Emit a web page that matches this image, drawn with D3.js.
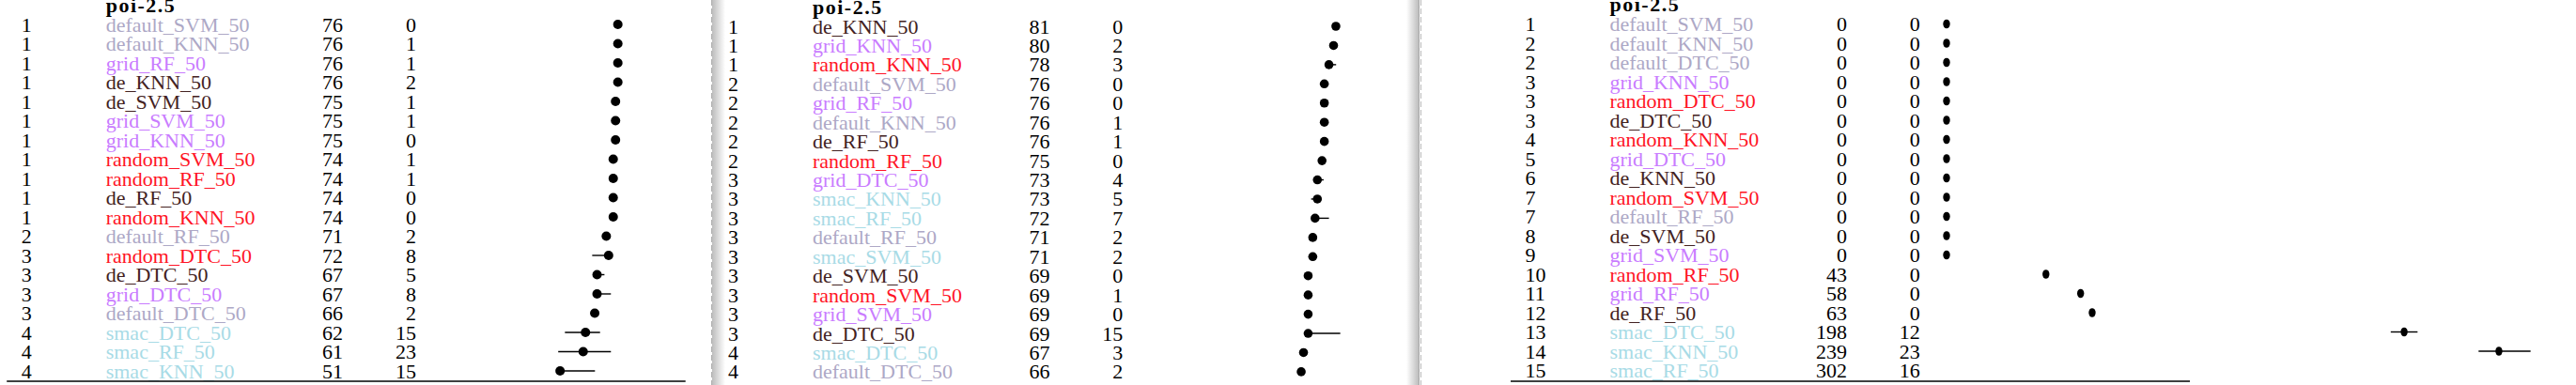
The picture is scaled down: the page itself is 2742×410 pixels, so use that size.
<!DOCTYPE html>
<html>
<head>
<meta charset="utf-8">
<script src="https://cdn.jsdelivr.net/npm/d3@7"></script>
<style>
  html, body { margin: 0; padding: 0; background: #fff; overflow: hidden; }
  svg { display: block; }
</style>
</head>
<body>
<svg id="chart" width="2742" height="410"></svg>
<script>
// ---------------- data ----------------
const title = "poi-2.5";

// panel 1
const ranks1  = [1,1,1,1,1,1,1,1,1,1,1,2,3,3,3,3,4,4,4];
const names1  = ["default_SVM_50","default_KNN_50","grid_RF_50","de_KNN_50","de_SVM_50","grid_SVM_50","grid_KNN_50","random_SVM_50","random_RF_50","de_RF_50","random_KNN_50","default_RF_50","random_DTC_50","de_DTC_50","grid_DTC_50","default_DTC_50","smac_DTC_50","smac_RF_50","smac_KNN_50"];
const values1 = [76,76,76,76,75,75,75,74,74,74,74,71,72,67,67,66,62,61,51];
const stds1   = [0,1,1,2,1,1,0,1,1,0,0,2,8,5,8,2,15,23,15];
const barLo1  = [null,null,null,null,null,null,null,null,null,null,null,null,64.9,67,67,null,53.1,50.2,51];
const barHi1  = [null,null,null,null,null,null,null,null,null,null,null,null,72,70.2,73.0,null,68.3,73.0,66.1];

// panel 2
const ranks2  = [1,1,1,2,2,2,2,2,3,3,3,3,3,3,3,3,3,4,4,4];
const names2  = ["de_KNN_50","grid_KNN_50","random_KNN_50","default_SVM_50","grid_RF_50","default_KNN_50","de_RF_50","random_RF_50","grid_DTC_50","smac_KNN_50","smac_RF_50","default_RF_50","smac_SVM_50","de_SVM_50","random_SVM_50","grid_SVM_50","de_DTC_50","smac_DTC_50","default_DTC_50","random_DTC_50"];
const values2 = [81,80,78,76,76,76,76,75,73,73,72,71,71,69,69,69,69,67,66,65];
const stds2   = [0,2,3,0,0,1,1,0,4,5,7,2,2,0,1,0,15,3,2,4];
const barLo2  = [null,null,78,null,null,null,null,null,73,70.3,72,null,69.2,null,null,null,69,null,null,null];
const barHi2  = [null,null,81.1,null,null,null,null,null,75.7,73,78.0,null,71,null,null,null,82.9,null,null,null];

// panel 3
const ranks3  = [1,2,2,3,3,3,4,5,6,7,7,8,9,10,11,12,13,14,15];
const names3  = ["default_SVM_50","default_KNN_50","default_DTC_50","grid_KNN_50","random_DTC_50","de_DTC_50","random_KNN_50","grid_DTC_50","de_KNN_50","random_SVM_50","default_RF_50","de_SVM_50","grid_SVM_50","random_RF_50","grid_RF_50","de_RF_50","smac_DTC_50","smac_KNN_50","smac_RF_50"];
const values3 = [0,0,0,0,0,0,0,0,0,0,0,0,0,43,58,63,198,239,302];
const stds3   = [0,0,0,0,0,0,0,0,0,0,0,0,0,0,0,0,12,23,16];
const barLo3  = [null,null,null,null,null,null,null,null,null,null,null,null,null,null,null,null,192.2,230.2,294];
const barHi3  = [null,null,null,null,null,null,null,null,null,null,null,null,null,null,null,null,203.8,252.7,310];

const methodColors = {
  default: "#ada8c6",
  grid:    "#c97cff",
  de:      "#432222",
  random:  "#ff1426",
  smac:    "#a8dbe6"
};

// ---------------- layout ----------------
const panels = [
  { ranks: ranks1, names: names1, values: values1, stds: stds1, lo: barLo1, hi: barHi1,
    rankX: 22.7, titleY: 13, rowY0: 26, rowStep: 20.5, x0: 470.7, rx: 5, ry: 5, rule: 406 },
  { ranks: ranks2, names: names2, values: values2, stds: stds2, lo: barLo2, hi: barHi2,
    rankX: 775, titleY: 15, rowY0: 28, rowStep: 20.44, x0: 1222.7, rx: 4.8, ry: 4.8, rule: null },
  { ranks: ranks3, names: names3, values: values3, stds: stds3, lo: barLo3, hi: barHi3,
    rankX: 1623.5, titleY: 11.5, rowY0: 25.5, rowStep: 20.5, x0: 2072, rx: 3.7, ry: 4.8, rule: 406 }
];

const svg = d3.select("#chart");
svg.append("rect").attr("width", 2742).attr("height", 410).attr("fill", "#fff");

const defs = svg.append("defs");
const g1 = defs.append("linearGradient").attr("id", "shR").attr("x1", "0").attr("x2", "1");
g1.append("stop").attr("offset", "0").attr("stop-color", "#bdbdbd");
g1.append("stop").attr("offset", "1").attr("stop-color", "#ffffff");
const g2 = defs.append("linearGradient").attr("id", "shL").attr("x1", "0").attr("x2", "1");
g2.append("stop").attr("offset", "0").attr("stop-color", "#ffffff");
g2.append("stop").attr("offset", "1").attr("stop-color", "#bdbdbd");

const FONT = "'Liberation Serif', 'Times New Roman', serif";

panels.forEach(p => {
  const nameX = p.rankX + 90;
  const valX = nameX + 252.4;
  const stdX = valX + 77.8;
  const x = d3.scaleLinear().domain([0, 100]).range([p.x0, p.x0 + 246]);
  const y = d3.scaleLinear().domain([0, 1]).range([p.rowY0, p.rowY0 + p.rowStep]);
  const g = svg.append("g");

  g.append("text")
    .attr("x", nameX).attr("y", p.titleY)
    .attr("font-family", FONT).attr("font-size", 22).attr("font-weight", "bold")
    .attr("letter-spacing", 1.5)
    .attr("fill", "#000").text(title);

  const rows = p.names.map((n, i) => ({
    rank: p.ranks[i], name: n, value: p.values[i], std: p.stds[i],
    lo: p.lo[i], hi: p.hi[i], i
  }));

  const r = g.selectAll("g.row").data(rows).join("g").attr("class", "row");
  const base = d => y(d.i) + 7.5;

  r.append("text").attr("x", p.rankX).attr("y", base)
    .attr("font-family", FONT).attr("font-size", 22).attr("fill", "#000")
    .text(d => d.rank);
  r.append("text").attr("x", nameX).attr("y", base)
    .attr("font-family", FONT).attr("font-size", 22)
    .attr("fill", d => methodColors[d.name.split("_")[0]])
    .text(d => d.name);
  r.append("text").attr("x", valX).attr("y", base).attr("text-anchor", "end")
    .attr("font-family", FONT).attr("font-size", 22).attr("fill", "#000")
    .text(d => d.value);
  r.append("text").attr("x", stdX).attr("y", base).attr("text-anchor", "end")
    .attr("font-family", FONT).attr("font-size", 22).attr("fill", "#000")
    .text(d => d.std);

  r.filter(d => d.lo !== null).append("line")
    .attr("x1", d => x(d.lo)).attr("x2", d => x(d.hi))
    .attr("y1", d => y(d.i)).attr("y2", d => y(d.i))
    .attr("stroke", "#000").attr("stroke-width", 1.4);
  r.append("ellipse")
    .attr("cx", d => x(d.value)).attr("cy", d => y(d.i))
    .attr("rx", p.rx).attr("ry", p.ry).attr("fill", "#000");

  if (p.rule !== null) {
    g.append("line")
      .attr("x1", p.rankX - 15.5).attr("x2", x(0) + 259)
      .attr("y1", p.rule).attr("y2", p.rule)
      .attr("stroke", "#000").attr("stroke-width", 1.6);
  }
});

// page separators
svg.append("rect").attr("x", 758).attr("y", 0).attr("width", 14).attr("height", 410).attr("fill", "url(#shR)");
svg.append("line").attr("x1", 757.5).attr("x2", 757.5).attr("y1", 0).attr("y2", 410)
  .attr("stroke", "#b0b0b0").attr("stroke-width", 1).attr("stroke-dasharray", "6,3");
svg.append("rect").attr("x", 1497).attr("y", 0).attr("width", 13).attr("height", 410).attr("fill", "url(#shL)");
svg.append("line").attr("x1", 1510.5).attr("x2", 1510.5).attr("y1", 0).attr("y2", 410)
  .attr("stroke", "#a8a8a8").attr("stroke-width", 1);
svg.append("line").attr("x1", 1512.5).attr("x2", 1512.5).attr("y1", 0).attr("y2", 410)
  .attr("stroke", "#b8b8b8").attr("stroke-width", 1).attr("stroke-dasharray", "6,3");
</script>
</body>
</html>
